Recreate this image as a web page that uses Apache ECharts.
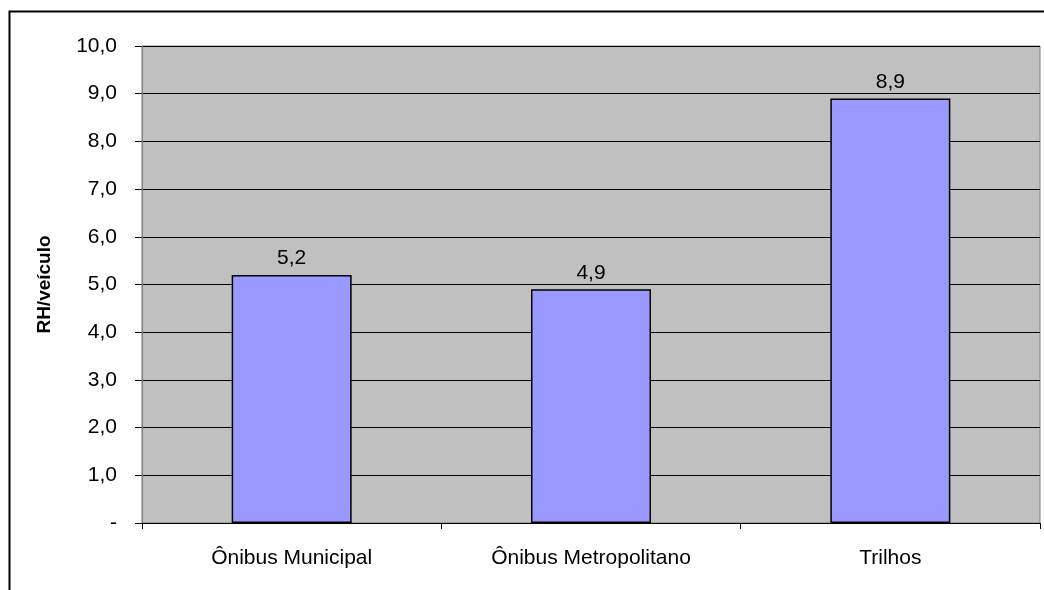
<!DOCTYPE html>
<html>
<head>
<meta charset="utf-8">
<script src="https://cdn.jsdelivr.net/npm/echarts@6/dist/echarts.min.js"></script>
<style>
html,body{margin:0;padding:0;background:#fff;}
#c{width:1044px;height:590px;}
</style>
</head>
<body>
<div id="c"></div>
<script>
const categories = ['Ônibus Municipal', 'Ônibus Metropolitano', 'Trilhos'];
const values = [5.2, 4.9, 8.9];
const yAxisName = 'RH/veículo';

const fmt = v => v === 0 ? '-' : v.toFixed(1).replace('.', ',');
const FF = 'Liberation Sans, Arial, sans-serif';

const chart = echarts.init(document.getElementById('c'), null, {renderer: 'canvas'});
chart.setOption({
  animation: false,
  textStyle: {fontFamily: FF},
  graphic: [{
    type: 'rect', left: 7, top: 9, z: 100, silent: true,
    shape: {x: 0, y: 0, width: 1100, height: 700},
    style: {fill: 'none', stroke: '#000', lineWidth: 2}
  }],
  grid: {
    left: 142, right: 4, top: 46, bottom: 67,
    show: true, backgroundColor: '#C0C0C0', borderColor: '#808080', borderWidth: 1
  },
  xAxis: {
    type: 'category', data: categories,
    axisLine: {lineStyle: {color: '#000', width: 1}},
    axisTick: {show: true, length: 6, lineStyle: {color: '#000'}},
    axisLabel: {color: '#000', fontSize: 21, margin: 25, fontFamily: FF}
  },
  yAxis: {
    type: 'value', min: 0, max: 10, interval: 1,
    name: yAxisName, nameLocation: 'middle', nameGap: 88,
    nameTextStyle: {color: '#000', fontSize: 19, fontWeight: 'bold', fontFamily: FF},
    axisLine: {show: true, lineStyle: {color: '#808080', width: 1}},
    axisTick: {show: true, length: 7, lineStyle: {color: '#000'}},
    axisLabel: {color: '#000', fontSize: 21, margin: 25, formatter: fmt, fontFamily: FF},
    splitLine: {show: true, lineStyle: {color: '#000', width: 1}}
  },
  series: [{
    type: 'bar', data: values, barWidth: 120,
    itemStyle: {color: '#9999FF', borderColor: '#000', borderWidth: 1.5},
    label: {show: true, position: 'top', distance: 6, color: '#000', fontSize: 21,
      fontFamily: FF,
      formatter: p => fmt(p.value)}
  }]
});
</script>
</body>
</html>
